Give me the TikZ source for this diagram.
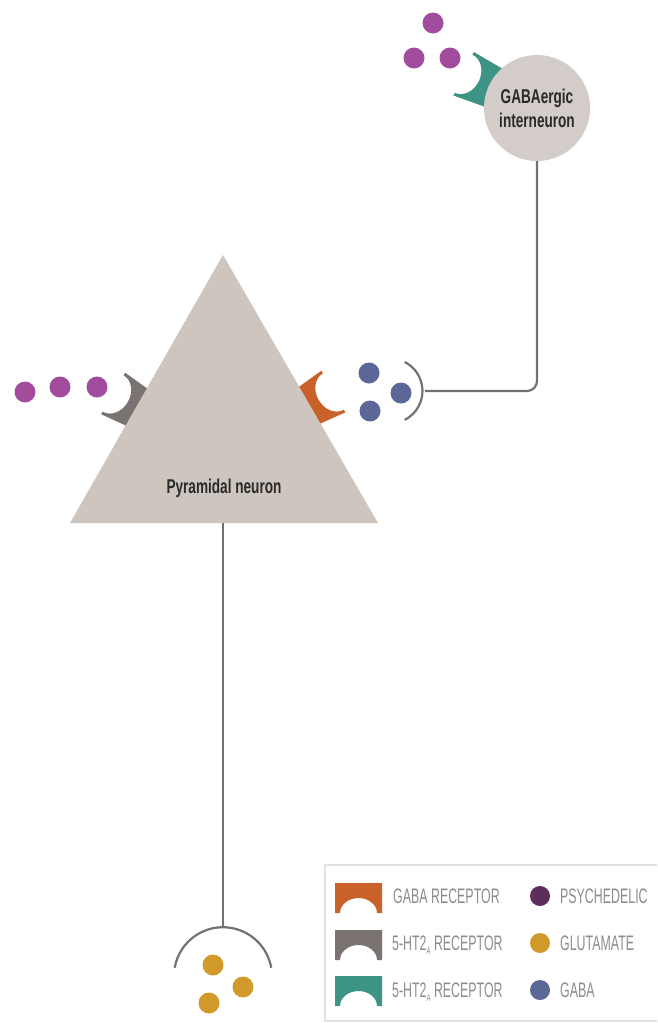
\documentclass[tikz,border=0pt]{standalone}
\usepackage{fontspec}
\newfontfamily\legfont[FakeStretch=0.59]{Liberation Sans}
\newfontfamily\labfont[FakeStretch=0.68]{Liberation Sans}
\definecolor{cellgray}{HTML}{CDC5BE}
\definecolor{somagray}{HTML}{D3CCC8}
\definecolor{wiregray}{HTML}{727272}
\definecolor{gabarec}{HTML}{C8622A}
\definecolor{htgray}{HTML}{7B7371}
\definecolor{htteal}{HTML}{3E9484}
\definecolor{psyc}{HTML}{A24C9E}
\definecolor{psycdark}{HTML}{5C2D5A}
\definecolor{glut}{HTML}{D19A2A}
\definecolor{gaba}{HTML}{5B6796}
\definecolor{legtext}{HTML}{8C8C8C}
\definecolor{labtext}{HTML}{2A2A2A}
\definecolor{legline}{HTML}{E2E2E2}
\tikzset{
  pics/receptor/.style={code={
    \fill[pic actions] (-21,0) -- (21,0) -- (24,-#1) -- (21,-#1)
      arc[start angle=0, end angle=180, x radius=21, y radius=17]
      -- (-24,-#1) -- cycle;}},
  pics/legreceptor/.style={code={
    \fill[pic actions] (-23.5,0) -- (23.5,0) -- (23.5,-30) -- (18.5,-30)
      arc[start angle=0, end angle=180, x radius=18.5, y radius=15]
      -- (-23.5,-30) -- cycle;}}
}
\begin{document}
\begin{tikzpicture}[x=1pt,y=-1pt,
  wire/.style={draw=wiregray, line width=2.2pt},
  dot/.style={circle, inner sep=0pt, minimum size=21pt},
  legdot/.style={circle, inner sep=0pt, minimum size=20pt},
  leglabel/.style={anchor=base west, inner sep=0pt, text=legtext,
    font=\legfont\fontsize{21}{24}\selectfont},
  celllabel/.style={text=labtext, font=\labfont\bfseries\fontsize{20}{24}\selectfont}]
\useasboundingbox (0,0) rectangle (657,1023);
\clip (0,0) rectangle (657,1023);

% receptors sit partly under the cell bodies
\pic[fill=gabarec, rotate=-60] at (307.4,406.5) {receptor=30};
\pic[fill=htgray, rotate=60] at (140,409) {receptor=31};
\pic[fill=htteal, rotate=65] at (493.5,87.7) {receptor=33};

% pyramidal neuron
\fill[cellgray] (223,255) -- (378,523) -- (70,523) -- cycle;
\node[celllabel, anchor=base] (pyrlabel) at (224,493) {Pyramidal neuron};
\coordinate (pyrbase) at (223,523);

% GABAergic interneuron
\node[circle, fill=somagray, minimum size=106pt, inner sep=0pt,
  celllabel, align=center] (inter) at (537,108) {GABAergic\\interneuron};

% synaptic terminals
\coordinate (gabasyn) at (425,391);
\coordinate (glusyn) at (223,927);
\draw[wire, rounded corners=10pt] (inter.south) |- (gabasyn);
\draw[wire] (gabasyn) ++(-20.3,-29) arc[start angle=-63, end angle=63, radius=32.5];
\draw[wire] (pyrbase) -- (glusyn);
\draw[wire] (glusyn) ++(-48.3,40.7) arc[start angle=190, end angle=350, radius=49];

% neurotransmitters
\node[dot, fill=psyc] (p1) at (433,23) {};
\node[dot, fill=psyc] (p2) at (414,58) {};
\node[dot, fill=psyc] (p3) at (450,58) {};
\node[dot, fill=psyc] (p4) at (25,392) {};
\node[dot, fill=psyc] (p5) at (60,387) {};
\node[dot, fill=psyc] (p6) at (97,387) {};
\node[dot, fill=gaba] (g1) at (369,373) {};
\node[dot, fill=gaba] (g2) at (401,393) {};
\node[dot, fill=gaba] (g3) at (370,411) {};
\node[dot, fill=glut] (u1) at (213,965) {};
\node[dot, fill=glut] (u2) at (243,987) {};
\node[dot, fill=glut] (u3) at (209,1003) {};

% legend
\draw[legline, line width=1.5pt] (700,865) -- (325,865) -- (325,1021) -- (700,1021);
\pic[fill=gabarec, rotate=180] at (358.5,883) {legreceptor};
\pic[fill=htgray, rotate=180] at (358.5,930) {legreceptor};
\pic[fill=htteal, rotate=180] at (358.5,976) {legreceptor};
\node[leglabel] (l1) at (393,903) {GABA RECEPTOR};
\node[leglabel] (l2) at (392,950) {5-HT2\raisebox{-0.2em}{\fontsize{10}{10}\selectfont A} RECEPTOR};
\node[leglabel] (l3) at (392,997) {5-HT2\raisebox{-0.2em}{\fontsize{10}{10}\selectfont A} RECEPTOR};
\node[legdot, fill=psycdark] (d1) at (540,896) {};
\node[legdot, fill=glut] (d2) at (540,943) {};
\node[legdot, fill=gaba] (d3) at (540,990) {};
\node[leglabel] (t1) at (560,903) {PSYCHEDELIC};
\node[leglabel] (t2) at (560,950) {GLUTAMATE};
\node[leglabel] (t3) at (560,997) {GABA};
\end{tikzpicture}
\end{document}
